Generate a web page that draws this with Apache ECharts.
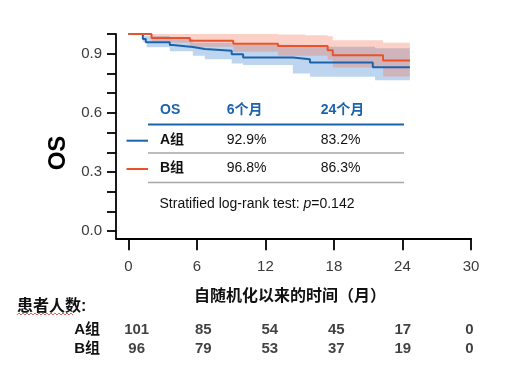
<!DOCTYPE html>
<html><head><meta charset="utf-8">
<script src="https://cdn.jsdelivr.net/npm/echarts@6/dist/echarts.min.js"></script>
<style>html,body{margin:0;padding:0;background:#fff}#c{width:519px;height:366px}</style>
</head><body><div id="c"></div>
<script>
// ---------- data ----------
const xTicks = [0, 6, 12, 18, 24, 30];
const yTicks = [0, 0.1, 0.2, 0.3, 0.4, 0.5, 0.6, 0.7, 0.8, 0.9, 1.0];
const yLabels = [0, 0.3, 0.6, 0.9];
const groupNames = ['A组', 'B组'];

// Kaplan-Meier step curves (month, survival)
const aTime = [0, 1.27, 1.53, 3.63, 3.9, 5.65, 6.7, 9.05, 10.05, 14.4, 15.9, 21.4, 24.65];
const aSurv = [1.0, 0.975, 0.958, 0.944, 0.934, 0.924, 0.915, 0.897, 0.881, 0.872, 0.855, 0.832, 0.832];
const bTime = [0, 2.03, 5.39, 9.18, 13.1, 17.45, 17.9, 22.3, 24.65];
const bSurv = [1.0, 0.980, 0.966, 0.951, 0.939, 0.918, 0.892, 0.865, 0.865];

// confidence bands
const aBandTime = [0, 1.27, 1.6, 3.63, 5.65, 6.7, 9.05, 10.05, 14.4, 15.9, 21.6, 24.65];
const aBandLow  = [1.0, 0.96, 0.933, 0.912, 0.89, 0.872, 0.851, 0.843, 0.80, 0.783, 0.765, 0.765];
const aBandHigh = [1.0, 0.99, 0.99, 0.975, 0.955, 0.955, 0.945, 0.945, 0.935, 0.935, 0.928, 0.928];
const bBandTime = [0, 2.03, 5.39, 9.18, 13.1, 15.5, 17.45, 17.9, 22.3, 24.65];
const bBandLow  = [1.0, 0.955, 0.935, 0.91, 0.89, 0.89, 0.87, 0.83, 0.784, 0.784];
const bBandHigh = [1.0, 1.0, 1.0, 1.0, 0.998, 0.994, 0.988, 0.968, 0.956, 0.956];

// numbers at risk
const riskTimes = [0, 6, 12, 18, 24, 30];
const riskA = [101, 85, 54, 45, 17, 0];
const riskB = [96, 79, 53, 37, 19, 0];

// inset table
const tableHeader = ['OS', '6个月', '24个月'];
const tableA = ['92.9%', '83.2%'];
const tableB = ['96.8%', '86.3%'];
const pValue = '0.142';

// ---------- styles ----------
const FONT = '"Liberation Sans", Arial, "Noto Sans CJK SC", sans-serif';
const BLUE = '#1c63ae';
const RED = '#e8532b';
const BLUE_BAND = 'rgba(92,150,215,0.40)';
const RED_BAND = 'rgba(240,120,95,0.35)';

function pairs(t, v) { return t.map((x, i) => [x, v[i]]); }

function bandSeries(t, lo, hi, color, z) {
  return {
    type: 'custom', xAxisIndex: 0, yAxisIndex: 0, z: z, silent: true,
    data: [[t[0], hi[0]]],
    renderItem: function (params, api) {
      const pts = [];
      for (let i = 0; i < t.length - 1; i++) {
        pts.push(api.coord([t[i], hi[i]]));
        pts.push(api.coord([t[i + 1], hi[i]]));
      }
      for (let i = t.length - 2; i >= 0; i--) {
        pts.push(api.coord([t[i + 1], lo[i]]));
        pts.push(api.coord([t[i], lo[i]]));
      }
      return { type: 'polygon', shape: { points: pts }, style: { fill: color, stroke: null } };
    }
  };
}

const chart = echarts.init(document.getElementById('c'), null, { renderer: 'canvas' });

const tableCols = [160, 226.7, 320.7];
const tableRows = [110.7, 140.7, 169];
const graphics = [];
tableHeader.forEach((h, i) => graphics.push({
  type: 'text', left: tableCols[i], top: tableRows[0] - 8,
  style: { text: h, font: 'bold 14px ' + FONT, fill: BLUE }
}));
[[groupNames[0]].concat(tableA), [groupNames[1]].concat(tableB)].forEach((row, r) => {
  row.forEach((v, i) => graphics.push({
    type: 'text', left: tableCols[i], top: tableRows[r + 1] - 8,
    style: { text: v, font: (i === 0 ? 'bold ' : '') + '14px ' + FONT, fill: '#111' }
  }));
});
graphics.push(
  { type: 'line', shape: { x1: 148, y1: 124.5, x2: 404, y2: 124.5 }, style: { stroke: BLUE, lineWidth: 2 } },
  { type: 'line', shape: { x1: 148, y1: 153, x2: 404, y2: 153 }, style: { stroke: '#a6a6a6', lineWidth: 1.5 } },
  { type: 'line', shape: { x1: 148, y1: 182.5, x2: 404, y2: 182.5 }, style: { stroke: '#a6a6a6', lineWidth: 1.5 } },
  { type: 'line', shape: { x1: 126.5, y1: 140.7, x2: 148, y2: 140.7 }, style: { stroke: BLUE, lineWidth: 2 } },
  { type: 'line', shape: { x1: 126.5, y1: 169, x2: 148, y2: 169 }, style: { stroke: RED, lineWidth: 2 } },
  {
    type: 'text', left: 159.5, top: 197,
    style: {
      text: '{a|Stratified log-rank test: }{i|p}{a|=' + pValue + '}',
      rich: {
        a: { font: '14px ' + FONT, fill: '#111' },
        i: { font: 'italic 14px ' + FONT, fill: '#111' }
      }
    }
  },
  {
    type: 'text', x: 58, y: 153, rotation: Math.PI / 2,
    style: { text: 'OS', font: 'bold 24px ' + FONT, fill: '#000', align: 'center', verticalAlign: 'middle' }
  },
  {
    type: 'text', x: 290, y: 297,
    style: { text: '自随机化以来的时间（月）', font: 'bold 16px ' + FONT, fill: '#111', align: 'center', verticalAlign: 'middle' }
  },
  {
    type: 'text', x: 17, y: 307,
    style: { text: '患者人数:', font: 'bold 16px ' + FONT, fill: '#111', align: 'left', verticalAlign: 'middle' }
  }
);
// red wavy spell-check underline
(function () {
  const pts = [];
  for (let x = 17, k = 0; x <= 73; x += 2, k++) pts.push([x, k % 2 ? 313 : 315]);
  graphics.push({ type: 'polyline', shape: { points: pts }, style: { stroke: '#e03c3c', lineWidth: 0.8, fill: null } });
})();

const axisCol = '#000';
const labelCol = '#3a3a3a';

chart.setOption({
  animation: false,
  backgroundColor: '#fff',
  grid: [
    { left: 116, right: 48, top: 34, bottom: 127.7 },
    { left: 136.7, right: 49.7, top: 320.5, height: 38 }
  ],
  xAxis: [
    {
      type: 'value', gridIndex: 0, min: -1.08, max: 30,
      axisLine: { onZero: false, lineStyle: { color: axisCol, width: 1.8 } },
      axisTick: { show: true, length: 12, customValues: xTicks, lineStyle: { color: axisCol, width: 1.8 } },
      axisLabel: { customValues: xTicks, margin: 21, fontSize: 15, fontFamily: FONT, color: labelCol },
      splitLine: { show: false }
    },
    { type: 'value', gridIndex: 1, min: 0, max: 30, show: false }
  ],
  yAxis: [
    {
      type: 'value', gridIndex: 0, min: -0.036, max: 1.0,
      axisLine: { show: true, onZero: false, lineStyle: { color: axisCol, width: 1.8 } },
      axisTick: { show: true, length: 9, customValues: yTicks, lineStyle: { color: axisCol, width: 1.8 } },
      axisLabel: {
        customValues: yLabels, margin: 14, fontSize: 15, fontFamily: FONT, color: labelCol,
        formatter: v => Number(v).toFixed(1)
      },
      splitLine: { show: false }
    },
    {
      type: 'category', gridIndex: 1, data: groupNames, inverse: true,
      axisLine: { show: false }, axisTick: { show: false },
      axisLabel: { interval: 0, hideOverlap: false, margin: 36.7, fontSize: 15, fontWeight: 'bold', fontFamily: FONT, color: '#111' }
    }
  ],
  graphic: graphics,
  series: [
    bandSeries(aBandTime, aBandLow, aBandHigh, BLUE_BAND, 1),
    bandSeries(bBandTime, bBandLow, bBandHigh, RED_BAND, 2),
    {
      type: 'line', step: 'end', data: pairs(aTime, aSurv), showSymbol: false, z: 5,
      lineStyle: { color: BLUE, width: 2 }, itemStyle: { color: BLUE }
    },
    {
      type: 'line', step: 'end', data: pairs(bTime, bSurv), showSymbol: false, z: 6,
      lineStyle: { color: RED, width: 2 }, itemStyle: { color: RED }
    },
    {
      type: 'scatter', xAxisIndex: 1, yAxisIndex: 1, symbolSize: 1, silent: true,
      itemStyle: { color: 'rgba(0,0,0,0)' },
      data: riskTimes.map((t, i) => [t, groupNames[0], riskA[i]])
        .concat(riskTimes.map((t, i) => [t, groupNames[1], riskB[i]])),
      label: {
        show: true, position: 'inside', formatter: p => String(p.value[2]),
        fontSize: 15, fontWeight: 'bold', fontFamily: FONT, color: '#111'
      }
    }
  ]
});
</script></body></html>
